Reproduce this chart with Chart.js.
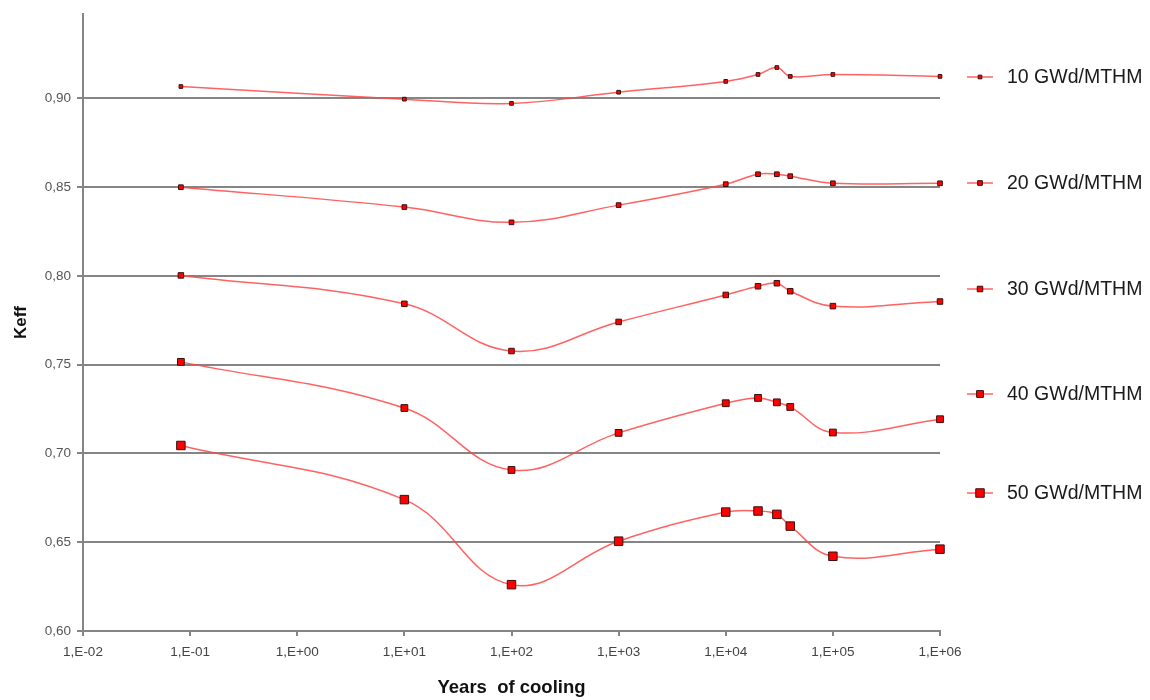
<!DOCTYPE html>
<html lang="en">
<head>
  <meta charset="UTF-8">
  <title>Keff vs years of cooling</title>
  <script src="https://cdn.jsdelivr.net/npm/chart.js"></script>
  <style>
    body { margin: 0; background: #fff; }
    #chart-container { width: 1150px; height: 700px; }
  </style>
</head>
<body>
  <div id="chart-container">
    <canvas id="keffChart" width="1150" height="700"></canvas>
  </div>
  <script>
    // Cooling times (years)
    const years = [0.082, 10, 100, 1000, 10000, 20000, 30000, 40000, 100000, 1000000];

    // Keff per burnup
    const keff10 = [0.9067, 0.8996, 0.8972, 0.9035, 0.9096, 0.9135, 0.9174, 0.9124, 0.9135, 0.9124];
    const keff20 = [0.8500, 0.8388, 0.8302, 0.8399, 0.8517, 0.8573, 0.8573, 0.8562, 0.8522, 0.8522];
    const keff30 = [0.8003, 0.7843, 0.7577, 0.7741, 0.7893, 0.7942, 0.7959, 0.7914, 0.7830, 0.7856];
    const keff40 = [0.7516, 0.7256, 0.6907, 0.7116, 0.7283, 0.7313, 0.7288, 0.7262, 0.7118, 0.7193];
    const keff50 = [0.7045, 0.6740, 0.6261, 0.6506, 0.6670, 0.6676, 0.6657, 0.6591, 0.6421, 0.6461];

    const seriesNames = ['10 GWd/MTHM', '20 GWd/MTHM', '30 GWd/MTHM', '40 GWd/MTHM', '50 GWd/MTHM'];
    const seriesValues = [keff10, keff20, keff30, keff40, keff50];

    // Axis ticks
    const xTicks = [1e-2, 1e-1, 1e0, 1e1, 1e2, 1e3, 1e4, 1e5, 1e6];
    const yTicks = [0.60, 0.65, 0.70, 0.75, 0.80, 0.85, 0.90];

    const markerSizes = [2.6, 3.3, 3.9, 4.8, 6];
    const lineColor = 'rgba(255, 70, 70, 0.85)';
    const gridColor = '#858585';
    const fontFamily = '"Liberation Sans", Arial, sans-serif';

    function expLabel(v) {
      const e = Math.round(Math.log10(v));
      const s = String(Math.abs(e)).padStart(2, '0');
      return '1,E' + (e < 0 ? '-' : '+') + s;
    }

    // Legend drawn to the right of the plot: short line with the marker, then the name
    const sideLegend = {
      id: 'sideLegend',
      afterDraw(chart) {
        const ctx = chart.ctx;
        const rows = [77, 183, 289, 394, 493];
        ctx.save();
        chart.data.datasets.forEach((ds, i) => {
          const y = rows[i];
          ctx.strokeStyle = ds.borderColor;
          ctx.lineWidth = ds.borderWidth;
          ctx.beginPath();
          ctx.moveTo(967, y);
          ctx.lineTo(993, y);
          ctx.stroke();
          ctx.fillStyle = ds.pointBackgroundColor;
          ctx.strokeStyle = ds.pointBorderColor;
          ctx.lineWidth = ds.pointBorderWidth;
          Chart.helpers.drawPoint(ctx, { pointStyle: 'rect', radius: ds.pointRadius, borderWidth: ds.pointBorderWidth }, 980, y);
          ctx.fillStyle = '#1a1a1a';
          ctx.font = '19.5px ' + fontFamily;
          ctx.textBaseline = 'middle';
          ctx.textAlign = 'left';
          ctx.fillText(ds.label, 1007, y + 1);
        });
        ctx.restore();
      }
    };

    const datasets = seriesNames.map((name, i) => ({
      label: name,
      data: years.map((x, j) => ({ x: x, y: seriesValues[i][j] })),
      borderColor: lineColor,
      borderWidth: 1.5,
      tension: 0.4,
      clip: false,
      pointStyle: 'rect',
      pointRadius: markerSizes[i],
      pointBackgroundColor: '#ff0000',
      pointBorderColor: '#3a1010',
      pointBorderWidth: 1,
      fill: false
    }));

    const ctx = document.getElementById('keffChart').getContext('2d');
    new Chart(ctx, {
      type: 'line',
      data: { datasets: datasets },
      options: {
        responsive: false,
        animation: false,
        layout: { padding: { top: 12, right: 210, bottom: 0, left: 0 } },
        plugins: {
          legend: { display: false },
          tooltip: { enabled: false }
        },
        scales: {
          x: {
            type: 'logarithmic',
            min: 1e-2,
            max: 1e6,
            afterBuildTicks: (scale) => { scale.ticks = xTicks.map(v => ({ value: v })); },
            afterFit: (scale) => { scale.height = 69; },
            ticks: {
              callback: (v) => expLabel(v),
              color: '#444',
              font: { family: fontFamily, size: 13.5 },
              padding: 8,
              maxRotation: 0,
              autoSkip: false
            },
            grid: { drawOnChartArea: false, drawTicks: true, tickLength: 5, color: gridColor, lineWidth: 2 },
            border: { color: gridColor, width: 2 },
            title: {
              display: true,
              text: 'Years  of cooling',
              color: '#111',
              font: { family: fontFamily, size: 18.5, weight: 'bold' },
              padding: { top: 0, bottom: 1 }
            }
          },
          y: {
            min: 0.60,
            max: 0.9475,
            afterBuildTicks: (scale) => { scale.ticks = yTicks.map(v => ({ value: v })); },
            afterFit: (scale) => { scale.width = 83; },
            ticks: {
              callback: (v) => v.toFixed(2).replace('.', ','),
              color: '#555',
              font: { family: fontFamily, size: 13.5 },
              padding: 6
            },
            grid: { color: gridColor, lineWidth: 2, tickLength: 6 },
            border: { color: gridColor, width: 2 },
            title: {
              display: true,
              text: 'Keff',
              color: '#111',
              font: { family: fontFamily, size: 17, weight: 'bold' },
              padding: { top: 11, bottom: 0 }
            }
          }
        }
      },
      plugins: [sideLegend]
    });
  </script>
</body>
</html>
